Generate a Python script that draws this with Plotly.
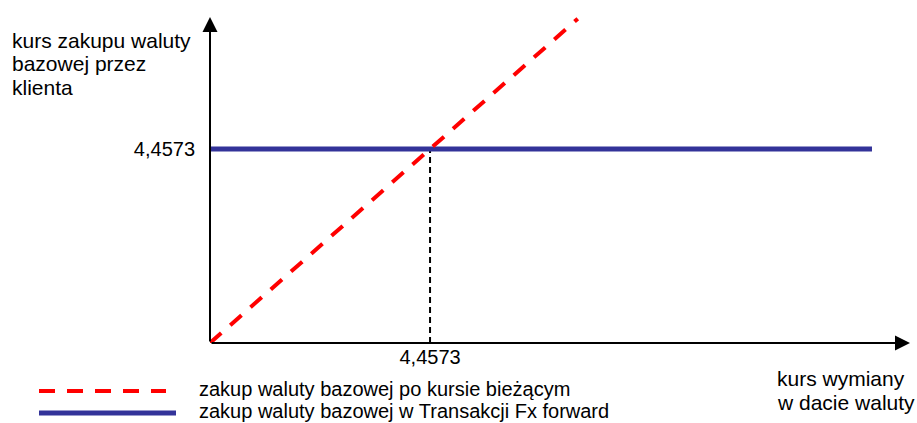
import plotly.graph_objects as go

# ---- data ----
strike = 4.4573
tick_text = ["4,4573"]
spot_x = [0.0, strike, 7.45]         # zakup po kursie bieżącym (y = x)
spot_y = [0.0, strike, 7.45]
forward_x = [0.0, 13.41]             # zakup w Transakcji Fx forward
forward_y = [strike, strike]
guide_x = [strike, strike]
guide_y = [0.0, strike]
x_max = 14.18
y_max = 7.49

legend_names = ["zakup waluty bazowej po kursie bieżącym",
                "zakup waluty bazowej w Transakcji Fx forward"]
y_title = ["kurs zakupu waluty", "bazowej przez", "klienta"]
x_title = ["kurs wymiany", "w dacie waluty"]

W, H = 917, 423
L, R, T, B = 210, 7, 17, 80
PW, PH = W - L - R, H - T - B


def px(x):
    return (x - L) / PW


def py(y):
    return (H - B - y) / PH


FONT = dict(family="Liberation Sans, Arial", size=20, color="black")
TFONT = dict(family="Liberation Sans, Arial", size=21, color="black")
RED = "#ff0000"
BLUE = "#333399"

fig = go.Figure()
fig.add_trace(go.Scatter(x=guide_x, y=guide_y, mode="lines",
                         line=dict(color="black", width=2, dash="6px,4px"),
                         showlegend=False, hoverinfo="skip"))
fig.add_trace(go.Scatter(x=forward_x, y=forward_y, mode="lines",
                         line=dict(color=BLUE, width=5),
                         name=legend_names[1], showlegend=False))
fig.add_trace(go.Scatter(x=spot_x, y=spot_y, mode="lines",
                         line=dict(color=RED, width=4, dash="15px,12px"),
                         name=legend_names[0], showlegend=False))

ann = []
# axes with arrows
ann.append(dict(x=x_max, y=0, ax=0, ay=0, xref="x", yref="y", axref="x", ayref="y",
                showarrow=True, arrowhead=2, arrowsize=1.5, arrowwidth=2,
                arrowcolor="black", text=""))
ann.append(dict(x=0, y=y_max, ax=0, ay=0, xref="x", yref="y", axref="x", ayref="y",
                showarrow=True, arrowhead=2, arrowsize=1.5, arrowwidth=2,
                arrowcolor="black", text=""))
# axis titles
for i, t in enumerate(y_title):
    ann.append(dict(text=t, x=px(10), y=py(40 + 24 * i), xref="paper", yref="paper",
                    xanchor="left", yanchor="middle", showarrow=False, font=TFONT))
for i, t in enumerate(x_title):
    ann.append(dict(text=t, x=px(775), y=py(378 + 24 * i), xref="paper", yref="paper",
                    xanchor="left", yanchor="middle", showarrow=False, font=TFONT))
# legend
for i, t in enumerate(legend_names):
    ann.append(dict(text=t, x=px(197), y=py(389 + 22 * i), xref="paper", yref="paper",
                    xanchor="left", yanchor="middle", showarrow=False, font=FONT))

shapes = [
    dict(type="line", xref="paper", yref="paper", x0=px(39), x1=px(166),
         y0=py(391), y1=py(391), line=dict(color=RED, width=4, dash="16px,12px")),
    dict(type="line", xref="paper", yref="paper", x0=px(39), x1=px(176),
         y0=py(413), y1=py(413), line=dict(color=BLUE, width=5)),
]

fig.update_layout(
    width=W, height=H, margin=dict(l=L, r=R, t=T, b=B, pad=0),
    paper_bgcolor="white", plot_bgcolor="white",
    showlegend=False, font=FONT,
    annotations=ann, shapes=shapes,
    xaxis=dict(range=[0, x_max], tickvals=[strike], ticktext=tick_text,
               showgrid=False, zeroline=False, showline=False, ticks="",
               tickfont=FONT, fixedrange=True),
    yaxis=dict(range=[0, y_max], tickvals=[strike], ticktext=tick_text,
               showgrid=False, zeroline=False, showline=False, ticks="",
               tickfont=FONT, ticklabelstandoff=14, fixedrange=True),
)

fig.write_html("out.html", config={"displayModeBar": False},
               post_script="document.body.style.margin='0';document.body.style.overflow='hidden';")
